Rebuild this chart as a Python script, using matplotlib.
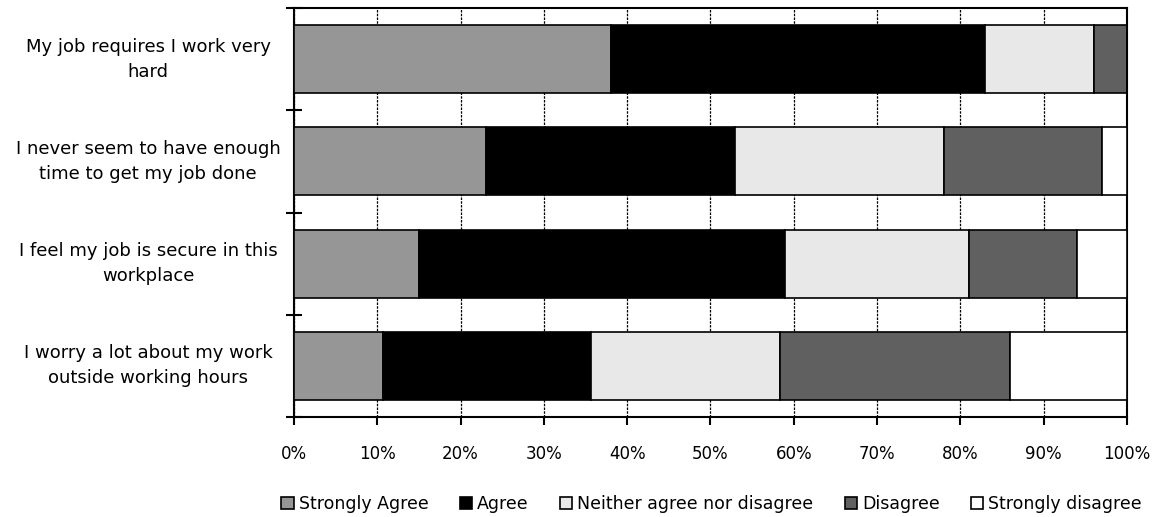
import numpy as np
import matplotlib.pyplot as plt

# survey statements (top to bottom)
questions = ["My job requires I work very\nhard",
             "I never seem to have enough\ntime to get my job done",
             "I feel my job is secure in this\nworkplace",
             "I worry a lot about my work\noutside working hours"]

responses = ["Strongly Agree", "Agree", "Neither agree nor disagree",
             "Disagree", "Strongly disagree"]

# percentages per response
strongly_agree = [38, 23, 15, 10.7]
agree = [45, 30, 44, 25]
neither = [13, 25, 22, 22.6]
disagree = [4, 19, 13, 27.7]
strongly_disagree = [0, 3, 6, 14]

colors = ["#969696", "#000000", "#e8e8e8", "#606060", "#ffffff"]

data = [strongly_agree, agree, neither, disagree, strongly_disagree]

fig = plt.figure(figsize=(11.61, 5.17), dpi=100)
ax = fig.add_axes([0.2532, 0.1934, 0.7175, 0.7911])

y = np.arange(len(questions))
left = np.zeros(len(questions))
handles = []
for vals, col, lab in zip(data, colors, responses):
    vals = np.array(vals, dtype=float)
    b = ax.barh(y, vals, left=left, height=0.667, color=col,
                edgecolor="black", linewidth=1.2, label=lab, zorder=3)
    handles.append(b)
    left = left + vals

ax.set_xlim(0, 100)
ax.set_ylim(len(questions) - 0.5, -0.5)

ax.set_xticks(np.arange(0, 101, 10))
ax.set_xticklabels([f"{v}%" for v in range(0, 101, 10)], fontsize=12)
ax.tick_params(axis="x", direction="out", length=6, width=1.5, pad=14)
ax.xaxis.grid(True, linestyle=(0, (2, 1)), color="black", linewidth=0.9, zorder=0)

ax.set_yticks(y)
ax.set_yticklabels(questions, fontsize=13, linespacing=1.5, ha="center", va="center")
ax.tick_params(axis="y", which="major", length=0, pad=105)
ax.set_yticks(np.arange(-0.5, len(questions)), minor=True)
ax.tick_params(axis="y", which="minor", direction="inout", length=12, width=1.5)

for s in ax.spines.values():
    s.set_linewidth(1.5)
    s.set_color("black")

fig.legend(handles=handles, labels=responses, loc="center", ncol=5,
           bbox_to_anchor=(0.613, 0.025), frameon=False, fontsize=12.5,
           handlelength=0.7, handleheight=0.7, handletextpad=0.3,
           columnspacing=1.8)

plt.savefig("out.png")
